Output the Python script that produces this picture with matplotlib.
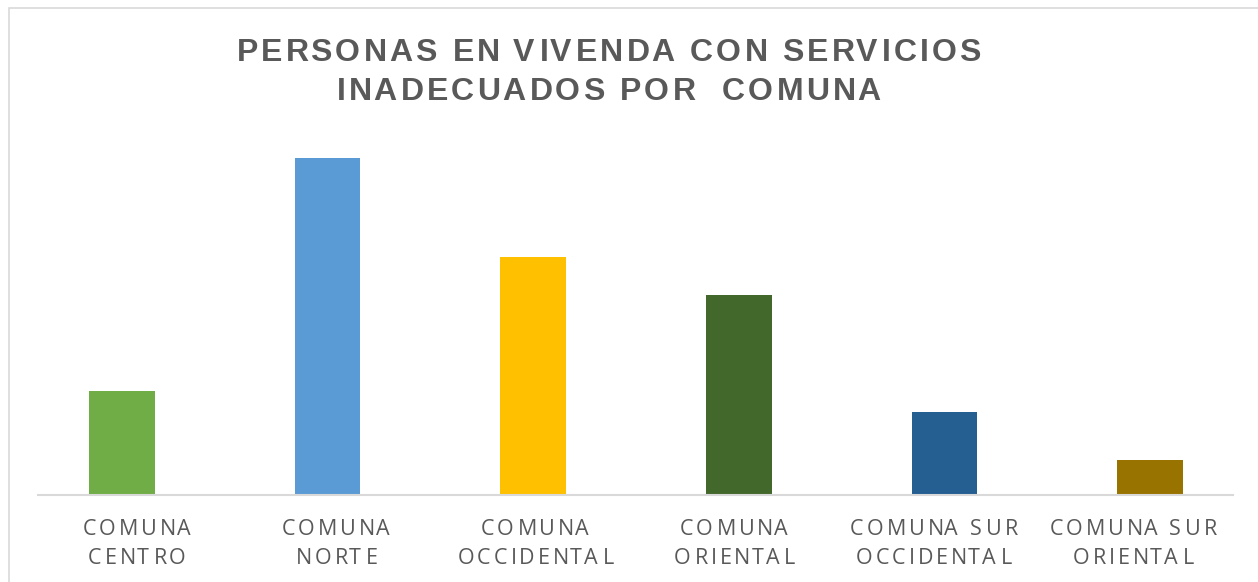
import matplotlib.pyplot as plt
from matplotlib import font_manager
from matplotlib.font_manager import FontProperties
from matplotlib.ft2font import FT2Font
from matplotlib.transforms import IdentityTransform
from matplotlib.patches import Rectangle

comunas = [["COMUNA", "CENTRO"], ["COMUNA", "NORTE"], ["COMUNA", "OCCIDENTAL"],
           ["COMUNA", "ORIENTAL"], ["COMUNA SUR", "OCCIDENTAL"], ["COMUNA SUR", "ORIENTAL"]]
personas = [104, 337, 238, 200, 83, 35]
colores = ["#70AD47", "#5B9BD5", "#FFC000", "#43682B", "#255E91", "#997300"]
titulo = ["PERSONAS EN VIVENDA CON SERVICIOS", "INADECUADOS POR  COMUNA"]

W, H = 1258, 582
gris = "#595959"

fig = plt.figure(figsize=(W / 100, H / 100), dpi=100)
ax = fig.add_axes([19 / W, 87 / H, 1234 / W, 360 / H])


def tracked(cx, y_top, line, size, weight, family, track):
    # text with extra letter spacing, centred on cx (pixels), baseline at y_top (from top)
    font = FT2Font(font_manager.findfont(FontProperties(family=family, weight=weight)))
    font.set_size(size, 100)
    advs, bears = [], []
    for ch in line:
        g = font.load_char(ord(ch))
        advs.append(g.linearHoriAdvance / 65536)
        bears.append(g.horiBearingX / 64)
    total = sum(advs) + track * (len(line) - 1)
    pen = cx - total / 2
    for ch, a, b in zip(line, advs, bears):
        if ch != ' ':
            fig.text(pen + b, H - y_top, ch, transform=IdentityTransform(),
                     ha='left', va='baseline', fontsize=size, fontweight=weight,
                     family=family, color=gris)
        pen += a + track


x = range(len(personas))
ax.bar(x, personas, width=0.32, color=colores)
ax.set_xlim(-0.5, len(personas) - 0.5)
ax.set_ylim(0, 360)
ax.set_xticks([])
ax.set_yticks([])
for s in ax.spines.values():
    s.set_visible(False)

# category axis line (shorter than the bar area, as in the original)
x0, x1 = 38, 1233
ax.axhline(0, xmin=(x0 - 19) / 1234, xmax=(x1 - 19) / 1234, color="#d9d9d9",
           linewidth=1.5, clip_on=False)

step = (x1 - x0) / len(comunas)
for i, lab in enumerate(comunas):
    cx = x0 + step * (i + 0.5) - 2
    tracked(cx, 535, lab[0], 15.5, 'normal', 'Open Sans', 2.8)
    tracked(cx, 564, lab[1], 15.5, 'normal', 'Open Sans', 2.8)

tracked(607, 61, titulo[0], 23, 'bold', 'Liberation Sans', 3.05)
tracked(607, 100, titulo[1], 23, 'bold', 'Liberation Sans', 3.05)

fig.patches.append(Rectangle((8.5, -10), W, H - 7.5 + 10, transform=IdentityTransform(),
                             fill=False, edgecolor="#d9d9d9", linewidth=1.2))

fig.savefig("out.png", dpi=100)
